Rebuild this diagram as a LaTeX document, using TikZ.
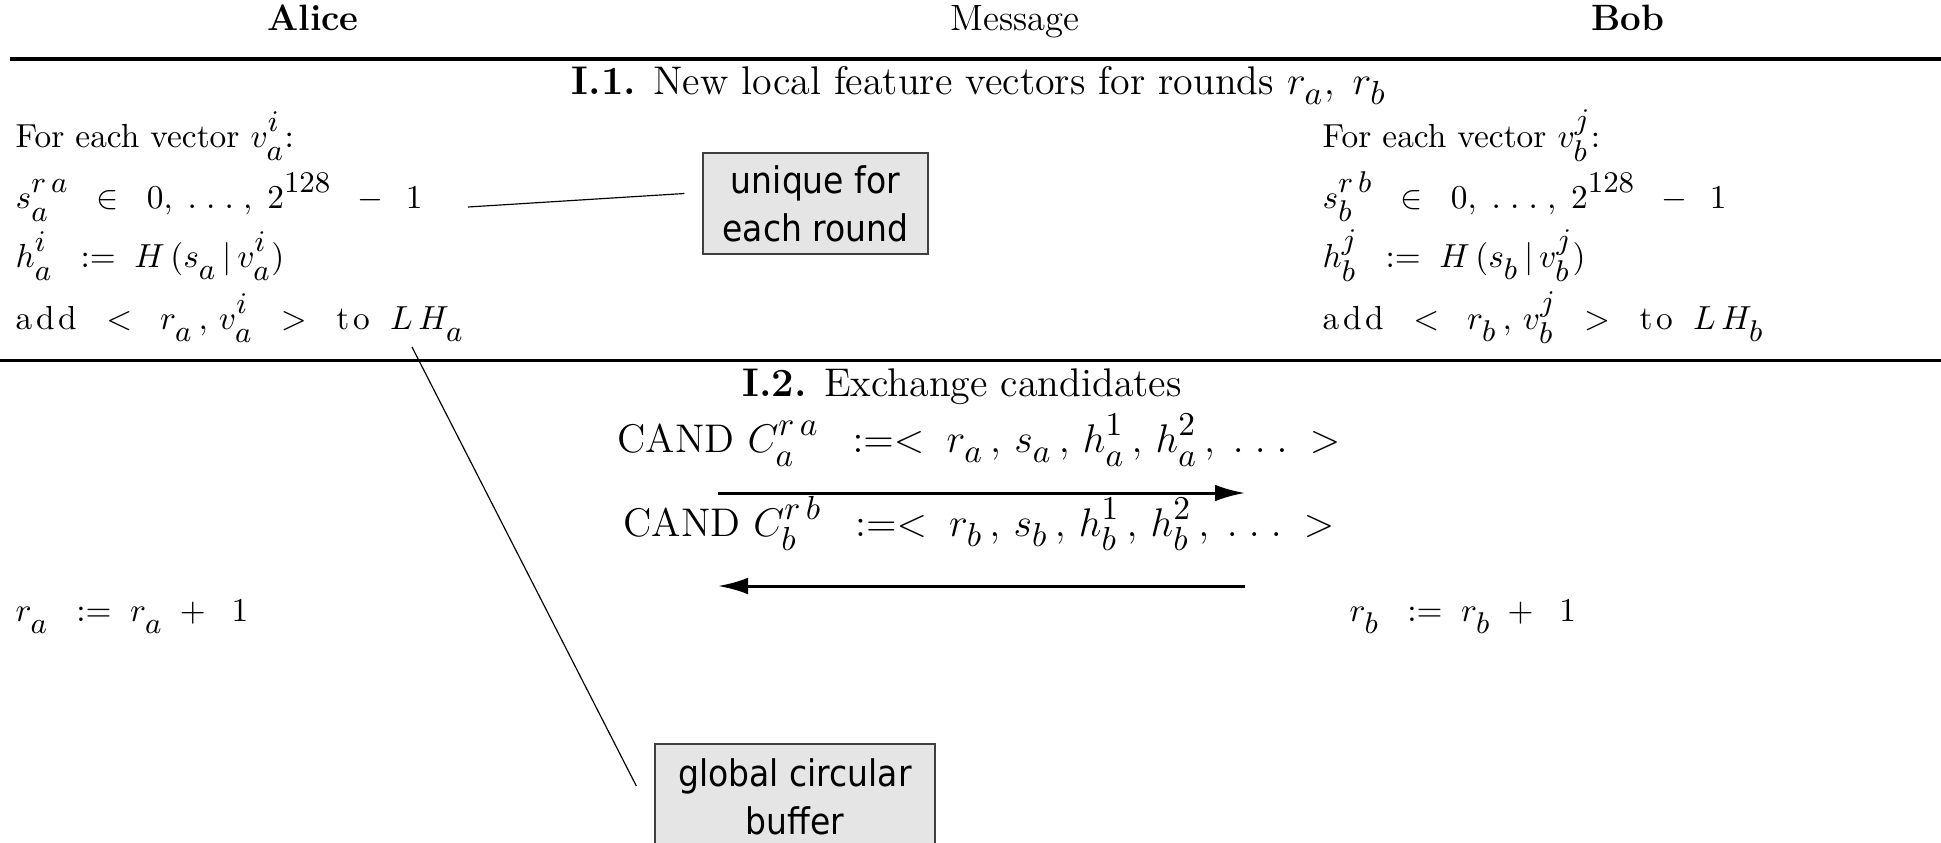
\documentclass[tikz,border=0pt]{standalone}
\usepackage{amsmath}
\usepackage{fontspec}
\newfontfamily\notefont{DejaVu Sans}[FakeStretch=0.9]
\usetikzlibrary{positioning,arrows.meta}
\DeclareMathSizes{10}{10}{9}{7.5}
\DeclareMathSizes{12}{12}{10}{8}
\newcommand\wdots{.\;.\;.}
\newcommand\wk{\kern1.1pt}
% scripts sit lower and higher, as in the drawing
\newcommand\setscripts[5]{\global\fontdimen13\textfont2=#1
  \global\fontdimen14\textfont2=#2 \global\fontdimen15\textfont2=#3
  \global\fontdimen16\textfont2=#4 \global\fontdimen17\textfont2=#5}

\begin{document}
\sbox0{\normalsize$x\setscripts{4.6pt}{4.6pt}{4pt}{3.6pt}{3.9pt}$}%
\sbox0{\fontsize{12}{14}\selectfont$x\setscripts{5pt}{5pt}{4.4pt}{3.2pt}{4.2pt}$}%
\begin{tikzpicture}[x=0.3pt,y=-0.3pt,
  every node/.style={inner sep=0pt},
  colhead/.style={anchor=base,font=\fontsize{11}{13}\selectfont},
  steptext/.style={anchor=base west},
  phase/.style={anchor=base,font=\fontsize{12}{14}\selectfont},
  notebox/.style={draw=black!75,fill=black!10,line width=0.4pt,align=center,
    font=\notefont\fontsize{11}{14.4}\selectfont},
  noteline/.style={draw=black,line width=0.35pt},
  msgarrow/.style={line width=0.9pt,-{Latex[length=9pt,width=5pt]}}]
\useasboundingbox (0,0) rectangle (1941,842);

% column heads
\node[colhead] (alice) at (313,30) {\textbf{Alice}};
\node[colhead] (msg) at (1015,30) {Message};
\node[colhead] (bob) at (1628,30) {\textbf{Bob}};
\draw[line width=1.2pt] (10,59) -- (1941,59);

% phase I.1
\node[phase] (p11) at (979,94) {\textbf{I.1.} New local feature vectors for rounds $r_{a},\;r_{b}$};
\node[steptext] (aeach) at (15,147) {For each vector $v_{a}^{i}$:};
\node[steptext] (asalt) at (15,208) {$s_{a}^{r\,a}\;\;\in\;\;0,\;\wdots\;,\;2^{128}\;\;-\;\,1$};
\node[steptext] (ahash) at (15,267) {$h_{a}^{i}\;\;:=\;H\,(s_{a}\,|\,v_{a}^{i})$};
\node[steptext] (aadd) at (15,329) {a\wk d\wk d\;\; $<\;\;r_{a}\,,\,v_{a}^{i}\;\;>$\;\; t\wk o\; $L\,H_{a}$};
\node[steptext] (beach) at (1322,147) {For each vector $v_{b}^{j}$:};
\node[steptext] (bsalt) at (1322,208) {$s_{b}^{r\,b}\;\;\in\;\;0,\;\wdots\;,\;2^{128}\;\;-\;\,1$};
\node[steptext] (bhash) at (1322,267) {$h_{b}^{j}\;\;:=\;H\,(s_{b}\,|\,v_{b}^{j})$};
\node[steptext] (badd) at (1322,329) {a\wk d\wk d\;\; $<\;\;r_{b}\,,\,v_{b}^{j}\;\;>$\;\; t\wk o\; $L\,H_{b}$};
\draw[line width=0.9pt] (0,360) -- (1941,360);

% phase I.2
\node[phase] (p12) at (962,396) {\textbf{I.2.} Exchange candidates};
\node[phase] (canda) at (979,452) {CAND $C_{a}^{r\,a}\;\;:=<\;r_{a}\,,\,s_{a}\,,\,h_{a}^{1}\,,\,h_{a}^{2}\,,\;\wdots\;>$};
\coordinate (ca1) at (718,493);
\coordinate (cb1) at (1245,493);
\draw[msgarrow] (ca1) -- (cb1);
\node[phase] (candb) at (979,536) {CAND $C_{b}^{r\,b}\;\;:=<\;r_{b}\,,\,s_{b}\,,\,h_{b}^{1}\,,\,h_{b}^{2}\,,\;\wdots\;>$};
\coordinate (ca2) at (718,586);
\coordinate (cb2) at (1245,586);
\draw[msgarrow] (cb2) -- (ca2);
\node[steptext] (ainc) at (15,621) {$r_{a}\;\;:=\;r_{a}\;+\;\;1$};
\node[steptext] (binc) at (1349,621) {$r_{b}\;\;:=\;r_{b}\;+\;\;1$};

% notes
\node[notebox,minimum width=67.5pt,minimum height=30.3pt] (uniq) at (815.5,203.5) {unique for\\each round};
\node[notebox,minimum width=84pt,minimum height=31.8pt] (ring) at (795,797) {global circular\\buffer};
\coordinate (uniqfrom) at (468,207);
\coordinate (ringfrom) at (412,347);
\draw[noteline] (uniqfrom) -- ([shift={(-18,-10)}]uniq.west);
\draw[noteline] (ringfrom) -- ([shift={(-18,-11)}]ring.west);
\end{tikzpicture}
\end{document}
